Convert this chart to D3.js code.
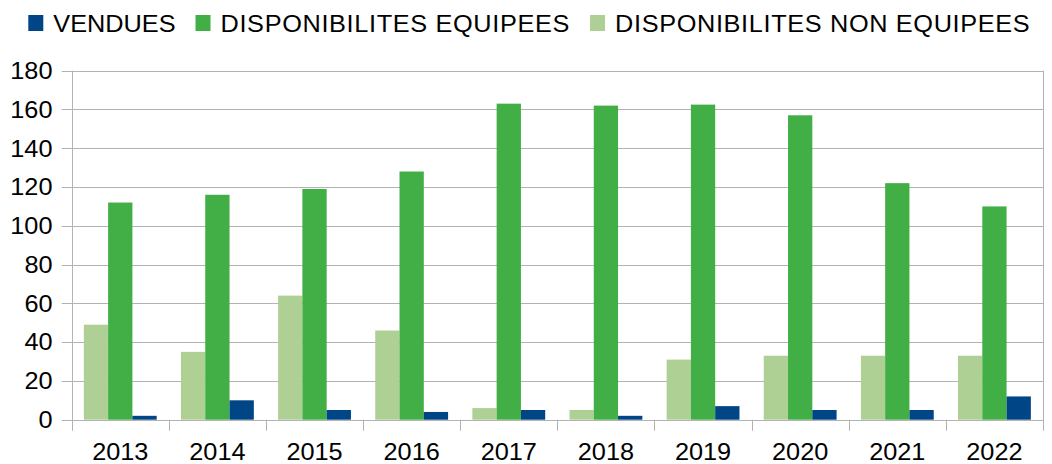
<!DOCTYPE html>
<html>
<head>
<meta charset="utf-8">
<script src="https://cdn.jsdelivr.net/npm/d3@7"></script>
<style>
  body { margin: 0; background: #fff; }
  text { font-family: "Liberation Sans", Arial, sans-serif; fill: #000; }
</style>
</head>
<body>
<div id="chart"></div>
<script>
var years = ["2013", "2014", "2015", "2016", "2017", "2018", "2019", "2020", "2021", "2022"];
var vendues = [2, 10, 5, 4, 5, 2, 7, 5, 5, 12];
var equipees = [112, 116, 119, 128, 163, 162, 162.5, 157, 122, 110];
var nonEquipees = [49, 35, 64, 46, 6, 5, 31, 33, 33, 33];
var yTicks = [0, 20, 40, 60, 80, 100, 120, 140, 160, 180];

var seriesNames = ["VENDUES", "DISPONIBILITES EQUIPEES", "DISPONIBILITES NON EQUIPEES"];
var seriesColors = ["#004586", "#41ae46", "#afd095"];
// bar order inside each year: non equipees, equipees, vendues
var barOrder = [2, 1, 0];
var seriesValues = [vendues, equipees, nonEquipees];

var W = 1052, H = 464;
var plot = { left: 71.7, right: 1043, top: 70.7, bottom: 419.7 };
var sx = 1.1; // horizontal stretch of the text

var svg = d3.select("#chart").append("svg")
    .attr("width", W)
    .attr("height", H);

var x = d3.scaleBand().domain(years).range([plot.left, plot.right]).padding(0);
var x1 = d3.scaleBand().domain(barOrder).range([x.bandwidth() * 0.125, x.bandwidth() * 0.875]).padding(0);
var y = d3.scaleLinear().domain([0, 180]).range([plot.bottom, plot.top]);

// gridlines
svg.append("g")
    .selectAll("line")
    .data(yTicks)
    .enter().append("line")
    .attr("x1", plot.left - 10)
    .attr("x2", plot.right)
    .attr("y1", d => Math.round(y(d)) + 0.5)
    .attr("y2", d => Math.round(y(d)) + 0.5)
    .attr("stroke", "#b3b3b3")
    .attr("stroke-width", 1);

// y labels
svg.append("g")
    .selectAll("text")
    .data(yTicks)
    .enter().append("text")
    .attr("text-anchor", "end")
    .attr("transform", d => "translate(52.5," + (y(d) + 8.3) + ") scale(" + sx + ",1)")
    .style("font-size", "23px")
    .text(d => d);

// bars
var groups = svg.append("g")
    .selectAll("g")
    .data(years)
    .enter().append("g")
    .attr("transform", d => "translate(" + x(d) + ",0)");

groups.selectAll("rect")
    .data((d, i) => barOrder.map(s => ({ s: s, v: seriesValues[s][i] })))
    .enter().append("rect")
    .attr("x", d => x1(d.s))
    .attr("width", x1.bandwidth())
    .attr("y", d => y(d.v))
    .attr("height", d => y(0) - y(d.v))
    .attr("fill", d => seriesColors[d.s]);

// axis lines and category separators
var seps = years.map(d => x(d)).concat([plot.right]);
svg.append("g")
    .selectAll("line")
    .data(seps)
    .enter().append("line")
    .attr("x1", d => Math.round(d) + 0.5)
    .attr("x2", d => Math.round(d) + 0.5)
    .attr("y1", (d, i) => (i === 0 || i === seps.length - 1) ? plot.top : plot.bottom)
    .attr("y2", plot.bottom + 11)
    .attr("stroke", "#b3b3b3")
    .attr("stroke-width", 1);

// x labels
svg.append("g")
    .selectAll("text")
    .data(years)
    .enter().append("text")
    .attr("text-anchor", "middle")
    .attr("transform", d => "translate(" + (x(d) + x.bandwidth() / 2) + ",460) scale(" + sx + ",1)")
    .style("font-size", "23px")
    .text(d => d);

// legend
var lx = 28.3;
seriesNames.forEach(function (name, i) {
    svg.append("rect")
        .attr("x", lx)
        .attr("y", 15)
        .attr("width", 15)
        .attr("height", 16)
        .attr("fill", seriesColors[i]);
    var t = svg.append("text")
        .attr("transform", "translate(" + (lx + 25) + ",31.7) scale(" + sx + ",1)")
        .style("font-size", "23px")
        .style("letter-spacing", i === 0 ? "0px" : "0.6px")
        .text(name);
    lx = lx + 25 + t.node().getComputedTextLength() * sx + 20;
});
</script>
</body>
</html>
